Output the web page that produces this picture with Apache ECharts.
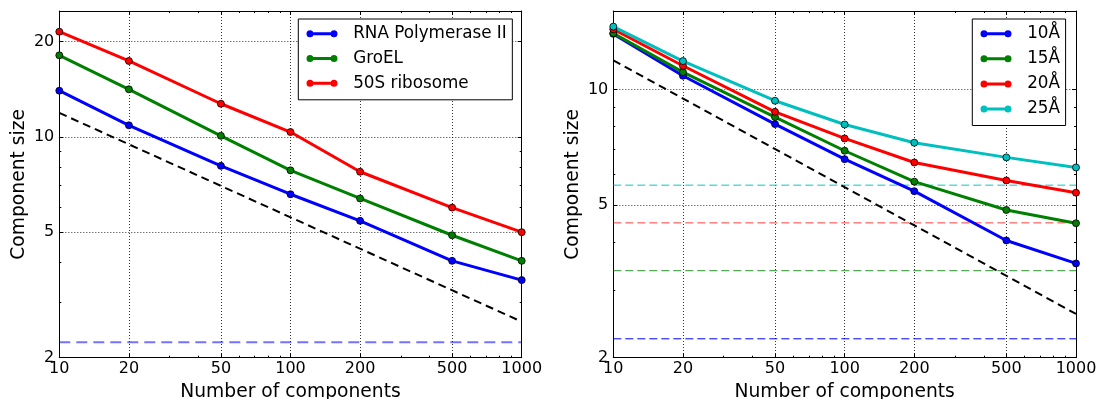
<!DOCTYPE html>
<html><head><meta charset="utf-8">
<script src="https://cdn.jsdelivr.net/npm/echarts@6/dist/echarts.min.js"></script>
<style>html,body{margin:0;padding:0;background:#fff}#c{width:1097px;height:399px}</style>
</head><body><div id="c"></div>
<script>
// ---- data ----
const xValues = [10, 20, 50, 100, 200, 500, 1000];
const xTickLabels = [10, 20, 50, 100, 200, 500, 1000];
const xMinorTicks = [30, 40, 60, 70, 80, 90, 300, 400, 600, 700, 800, 900];
const leftYTicks = [2, 5, 10, 20];
const rightYTicks = [2, 5, 10];
const yMinorTicks = [3, 4, 6, 7, 8, 9];
const leftYRange = [2, 25];
const rightYRange = [2, 16];

const leftNames = ['RNA Polymerase II', 'GroEL', '50S ribosome'];
const rnaPol2 = [13.99, 10.87, 8.09, 6.58, 5.42, 4.05, 3.52];
const groEL = [18.1, 14.13, 10.07, 7.83, 6.38, 4.88, 4.05];
const ribo50S = [21.5, 17.37, 12.72, 10.35, 7.75, 5.97, 4.99];
const leftBaseline = 2.24;

const guideX = [10, 1000];
const guideY = [11.9, 2.6];

const rightNames = ['10Å', '15Å', '20Å', '25Å'];
const res10 = [13.95, 10.85, 8.12, 6.58, 5.43, 4.04, 3.52];
const res15 = [14.0, 11.09, 8.47, 6.92, 5.75, 4.85, 4.48];
const res20 = [14.34, 11.52, 8.74, 7.45, 6.45, 5.79, 5.38];
const res25 = [14.57, 11.85, 9.34, 8.10, 7.26, 6.65, 6.26];
const rightBaselines = [2.24, 3.37, 4.49, 5.63];

const xTitle = 'Number of components';
const yTitle = 'Component size';

// ---- styling / build ----
const FONT = 'DejaVu Sans';
const C = {b: '#0000ff', g: '#008000', r: '#ff0000', c: '#00bfbf'};

function axisSet(dim, gi, min, max, majors, labels, minors, name, nameGap, labelMargin) {
  const mainPos = dim === 'x' ? 'bottom' : 'left';
  const oppPos = dim === 'x' ? 'top' : 'right';
  const base = {type: 'log', logBase: 10, gridIndex: gi, min: min, max: max, silent: true,
    axisLine: {show: false}, splitLine: {show: false}, axisLabel: {show: false}, axisTick: {show: false}};
  const tick = (vals, len) => ({show: true, inside: true, length: len, customValues: vals, lineStyle: {color: '#000', width: 1}});
  const main = Object.assign({}, base, {
    position: mainPos,
    name: name, nameLocation: 'middle', nameGap: nameGap,
    nameTextStyle: {fontFamily: FONT, fontSize: 18.7, color: '#000'},
    axisLine: {show: true, onZero: false, lineStyle: {color: '#000', width: 1}},
    axisTick: tick(majors, 4),
    axisLabel: {show: true, customValues: labels, margin: labelMargin, color: '#000', fontSize: 16, fontFamily: FONT, formatter: v => String(v)},
    splitLine: {show: true, lineStyle: {color: '#000', type: [1, 2], width: 0.8}}
  });
  const mainMinor = Object.assign({}, base, {position: mainPos, axisTick: tick(minors, 2)});
  const opp = Object.assign({}, base, {position: oppPos,
    axisLine: {show: true, onZero: false, lineStyle: {color: '#000', width: 1}}, axisTick: tick(majors, 4)});
  const oppMinor = Object.assign({}, base, {position: oppPos, axisTick: tick(minors, 2)});
  return [main, mainMinor, opp, oppMinor];
}

const xAxes = [].concat(
  axisSet('x', 0, 10, 1000, xTickLabels, xTickLabels, xMinorTicks, xTitle, 25, 3),
  axisSet('x', 1, 10, 1000, xTickLabels, xTickLabels, xMinorTicks, xTitle, 25, 3));
const yAxes = [].concat(
  axisSet('y', 0, leftYRange[0], leftYRange[1], leftYTicks, leftYTicks, yMinorTicks, yTitle, 31, 5),
  axisSet('y', 1, rightYRange[0], rightYRange[1], rightYTicks, rightYTicks, yMinorTicks, yTitle, 31, 5));

function lineSeries(name, ys, color, ai) {
  return {type: 'line', name: name, xAxisIndex: ai, yAxisIndex: ai,
    data: xValues.map((x, i) => [x, ys[i]]),
    symbol: 'circle', symbolSize: 7, showAllSymbol: true,
    lineStyle: {width: 3, color: color},
    itemStyle: {color: color, borderColor: '#000', borderWidth: 0.8},
    z: 5, silent: true, animation: false};
}
function hline(v, color, width, dash, ai, z) {
  return {type: 'line', name: '_h' + ai + '_' + v, xAxisIndex: ai, yAxisIndex: ai,
    data: guideX.map(x => [x, v]), symbol: 'none',
    lineStyle: {width: width, color: color, type: dash}, z: z, silent: true};
}
function guide(ai) {
  return {type: 'line', name: '_guide' + ai, xAxisIndex: ai, yAxisIndex: ai,
    data: guideX.map((x, i) => [x, guideY[i]]), symbol: 'none',
    lineStyle: {width: 2, color: '#000', type: [8, 5]}, z: 4, silent: true};
}

const series = [
  hline(leftBaseline, 'rgba(0,0,255,0.55)', 2, [11, 6], 0, 3),
  guide(0),
  lineSeries(leftNames[0], rnaPol2, C.b, 0),
  lineSeries(leftNames[1], groEL, C.g, 0),
  lineSeries(leftNames[2], ribo50S, C.r, 0),
  hline(rightBaselines[0], 'rgba(0,0,255,1)', 1, [8, 4], 4, 3),
  hline(rightBaselines[1], 'rgba(0,128,0,0.85)', 1, [8, 4], 4, 3),
  hline(rightBaselines[2], 'rgba(255,0,0,0.75)', 1, [8, 4], 4, 3),
  hline(rightBaselines[3], 'rgba(0,191,191,0.95)', 1, [8, 4], 4, 3),
  guide(4),
  lineSeries(rightNames[0], res10, C.b, 4),
  lineSeries(rightNames[1], res15, C.g, 4),
  lineSeries(rightNames[2], res20, C.r, 4),
  lineSeries(rightNames[3], res25, C.c, 4)
];

const ICON = 'path://M0,3.5A3.5,3.5 0 1,1 7,3.5A3.5,3.5 0 1,1 0,3.5Z M24,3.5A3.5,3.5 0 1,1 31,3.5A3.5,3.5 0 1,1 24,3.5Z M6.9,2L24.1,2L24.1,5L6.9,5Z';
function legend(names, left, gap) {
  return {data: names, orient: 'vertical', left: left, top: 19,
    backgroundColor: '#fff', borderColor: '#000', borderWidth: 1, borderRadius: 0,
    padding: [5.7, 5.6, 7.5, 8.2], itemGap: gap, itemWidth: 31, itemHeight: 7,
    icon: ICON, selectedMode: false, itemStyle: {borderWidth: 0},
    formatter: n => '  ' + n,
    textStyle: {fontFamily: FONT, fontSize: 16.8, color: '#000', lineHeight: 18}};
}

const option = {
  animation: false,
  backgroundColor: '#fff',
  grid: [
    {left: 59.3, top: 11, width: 462.4, height: 346.7, containLabel: false, outerBoundsMode: 'none'},
    {left: 613.3, top: 11, width: 462.7, height: 346.7, containLabel: false, outerBoundsMode: 'none'}
  ],
  xAxis: xAxes,
  yAxis: yAxes,
  legend: [legend(leftNames, 298.3, 6.8), legend(rightNames, 972.3, 7.1)],
  series: series
};
const chart = echarts.init(document.getElementById('c'), null, {renderer: 'canvas'});
chart.setOption(option);
</script></body></html>
